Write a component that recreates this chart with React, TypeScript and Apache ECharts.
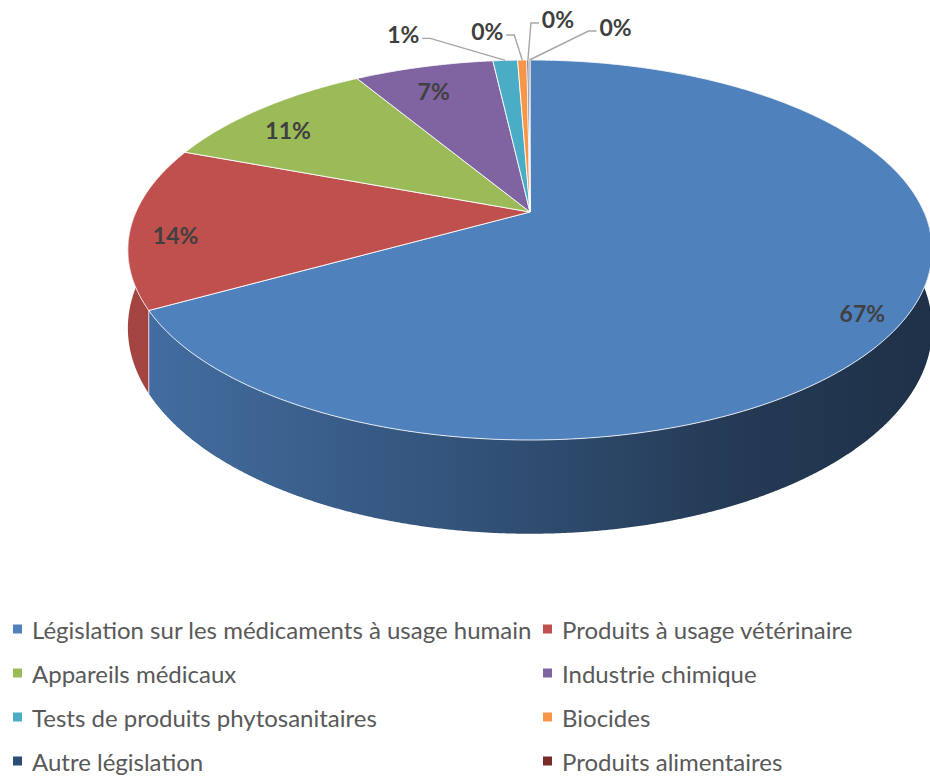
import React, { useEffect, useRef } from "react";
import * as echarts from "echarts";

const categories = [
  "Législation sur les médicaments à usage humain",
  "Produits à usage vétérinaire",
  "Appareils médicaux",
  "Industrie chimique",
  "Tests de produits phytosanitaires",
  "Biocides",
  "Autre législation",
  "Produits alimentaires",
];
const shares = [66.9, 13.8, 10.7, 6.8, 1.2, 0.45, 0.1, 0.05];
const colors = ["#4F81BD", "#C0504D", "#9BBB59", "#8064A2", "#4BACC6", "#F79646", "#2C4D75", "#772C2A"];

// layout of the 3D pie (perspective ellipse)
const CX = 530;
const CY = 212;
const RX = 394;
const RY = 182.4;
const K = 0.2;
const DEPTH = 75;
const LABEL_R = 0.89;
const LABEL_DY = 11;
// outside labels: offset of label centre from the rim anchor
const outsideLabelOffset: Record<number, [number, number]> = {
  4: [-102, -26],
  5: [-35, -29],
  6: [30, -41],
  7: [86, -33],
};

function proj(theta: number, r = 1): [number, number, number] {
  const X = r * Math.sin(theta);
  const Z = r * Math.cos(theta);
  const w = 1 + K * Z;
  return [CX + (RX * X) / w, CY - (RY * Z) / w, DEPTH / w];
}

function shade(hex: string, f: number) {
  const n = parseInt(hex.slice(1), 16);
  const r = Math.round(((n >> 16) & 255) * f);
  const g = Math.round(((n >> 8) & 255) * f);
  const b = Math.round((n & 255) * f);
  return `rgb(${r},${g},${b})`;
}

function arcPoints(a0: number, a1: number) {
  const n = Math.max(2, Math.ceil((a1 - a0) / 0.004));
  const pts: [number, number, number][] = [];
  for (let j = 0; j <= n; j++) pts.push(proj(a0 + ((a1 - a0) * j) / n));
  return pts;
}

const total = shares.reduce((s, v) => s + v, 0);

function renderSlice(params: any, api: any) {
  const i = params.seriesIndex;
  const color = colors[i];
  const before = shares.slice(0, i).reduce((s, v) => s + v, 0);
  const v = api.value(0);
  const a0 = (before / total) * Math.PI * 2;
  const a1 = ((before + v) / total) * Math.PI * 2;
  const children: any[] = [];

  // front wall
  const w0 = Math.max(a0, Math.PI / 2);
  const w1 = Math.min(a1, (Math.PI * 3) / 2);
  if (w1 > w0) {
    const top = arcPoints(w0, w1);
    const pts: number[][] = top.map((p) => [p[0], p[1]]);
    for (let j = top.length - 1; j >= 0; j--) pts.push([top[j][0], top[j][1] + top[j][2]]);
    children.push({
      type: "polygon",
      z2: 1,
      shape: { points: pts },
      style: {
        fill: new echarts.graphic.LinearGradient(
          CX - RX * 1.03,
          0,
          CX + RX * 1.03,
          0,
          [
            { offset: 0, color: shade(color, 0.86) },
            { offset: 0.5, color: shade(color, 0.6) },
            { offset: 0.75, color: shade(color, 0.45) },
            { offset: 1, color: shade(color, 0.38) },
          ],
          true
        ),
        stroke: null,
      },
    });
    if (w0 === a0) {
      const p = proj(a0);
      children.push({
        type: "line",
        z2: 2,
        shape: { x1: p[0], y1: p[1], x2: p[0], y2: p[1] + p[2] },
        style: { stroke: "rgba(255,255,255,0.75)", lineWidth: 1 },
      });
    }
  }

  // top face
  const topPts: number[][] = [[CX, CY]];
  arcPoints(a0, a1).forEach((p) => topPts.push([p[0], p[1]]));
  children.push({
    type: "polygon",
    z2: 5,
    shape: { points: topPts },
    style: { fill: color, stroke: "rgba(255,255,255,0.85)", lineWidth: 1, lineJoin: "round" },
  });

  // label
  const text = Math.round((v / total) * 100) + "%";
  const mid = (a0 + a1) / 2;
  const font = "bold 23px Lato";
  const off = outsideLabelOffset[i];
  if (!off) {
    const p = proj(mid, LABEL_R);
    children.push({
      type: "text",
      z2: 20,
      x: p[0],
      y: p[1] + LABEL_DY,
      style: { text, fill: "#404040", font, align: "center", verticalAlign: "middle" },
    });
  } else {
    const anchor = proj(mid, 1);
    const lx = anchor[0] + off[0];
    const ly = anchor[1] + off[1];
    const halfW = 16;
    const side = off[0] < 0 ? 1 : -1; // direction from label toward anchor
    const ex = lx + side * (halfW + 3);
    const ey = ly + 4;
    let kx = ex + side * 8;
    if ((side > 0 && kx > anchor[0]) || (side < 0 && kx < anchor[0])) kx = anchor[0];
    children.push({
      type: "polyline",
      z2: 15,
      shape: { points: [[anchor[0], anchor[1]], [kx, ey], [ex, ey]] },
      style: { stroke: "#A6A6A6", lineWidth: 1.4, fill: null },
    });
    children.push({
      type: "text",
      z2: 20,
      x: lx,
      y: ly,
      style: { text, fill: "#404040", font, align: "center", verticalAlign: "middle" },
    });
  }
  return { type: "group", children };
}

export default function App() {
  const ref = useRef<HTMLDivElement>(null);
  useEffect(() => {
    if (!ref.current) return;
    const chart = echarts.init(ref.current, null, { renderer: "svg" });
    const legendBase = {
      orient: "vertical",
      top: 617,
      padding: 0,
      itemWidth: 9,
      itemHeight: 9,
      itemGap: 20,
      icon: "rect",
      selectedMode: false,
      textStyle: { fontFamily: "Lato", fontSize: 24, color: "#595959", lineHeight: 24, padding: [0, 0, 0, 5] },
    };
    chart.setOption({
      animation: false,
      backgroundColor: "#FFFFFF",
      legend: [
        { ...legendBase, left: 13, data: [categories[0], categories[2], categories[4], categories[6]] },
        { ...legendBase, left: 543, data: [categories[1], categories[3], categories[5], categories[7]] },
      ],
      series: categories.map((name, i) => ({
        type: "custom",
        name,
        coordinateSystem: "none",
        itemStyle: { color: colors[i] },
        renderItem: renderSlice,
        data: [[shares[i]]],
      })),
    });
    return () => chart.dispose();
  }, []);
  return <div ref={ref} style={{ position: "fixed", left: 0, top: 0, width: 930, height: 777 }} />;
}
